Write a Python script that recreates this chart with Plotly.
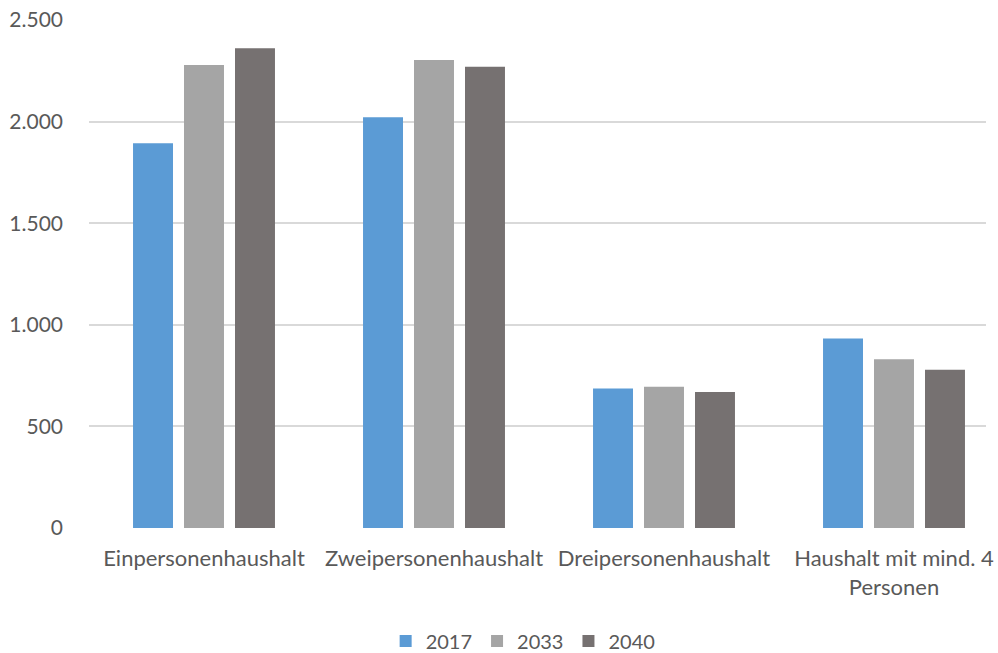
import plotly.graph_objects as go

categories = ["Einpersonenhaushalt", "Zweipersonenhaushalt", "Dreipersonenhaushalt", "Haushalt mit mind. 4<br>Personen"]
series_names = ["2017", "2033", "2040"]
v2017 = [1893, 2021, 687, 932]
v2033 = [2278, 2303, 695, 830]
v2040 = [2361, 2270, 669, 779]
colors = ["#5B9BD5", "#A5A5A5", "#767171"]

fig = go.Figure()
for name, vals, c in zip(series_names, [v2017, v2033, v2040], colors):
    fig.add_trace(go.Bar(x=list(range(len(categories))), y=vals, name=name,
                         marker=dict(color=c, line=dict(width=0))))

font = dict(family="Lato, Open Sans, sans-serif", size=22, color="#595959")
yfont = dict(family="Lato, Open Sans, sans-serif", size=21, color="#595959")
lfont = dict(family="Lato, Open Sans, sans-serif", size=20, color="#595959")
fig.update_layout(
    width=998, height=653,
    margin=dict(l=89, r=12, t=20, b=125, autoexpand=False),
    paper_bgcolor="white", plot_bgcolor="white",
    barmode="group", bargap=0.335, bargroupgap=0.216,
    separators=",.",
    font=font,
    showlegend=True,
    legend=dict(orientation="h", x=0.484, xanchor="center", y=-0.2224, yanchor="middle",
                font=lfont, traceorder="normal", itemwidth=30),
    xaxis=dict(tickmode="array", tickvals=list(range(len(categories))), ticktext=categories,
               range=[-0.5, 3.4], showgrid=False, zeroline=False, showline=False,
               ticks="", ticklabelstandoff=15, tickfont=font, automargin=False),
    yaxis=dict(range=[0, 2500], tickvals=[0, 500, 1000, 1500, 2000, 2500], tickformat=",d",
               showgrid=True, gridcolor="#D9D9D9", gridwidth=1.5, zeroline=False,
               showline=False, ticks="", ticklabelstandoff=25, tickfont=yfont, automargin=False),
)
fig.write_html("out.html", config={"displayModeBar": False},
               post_script="document.body.style.margin='0px';document.body.style.overflow='hidden';")
